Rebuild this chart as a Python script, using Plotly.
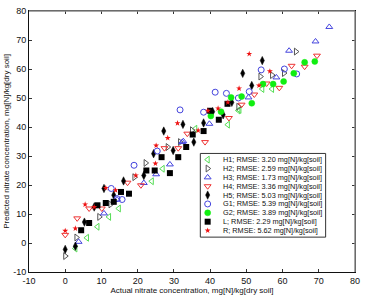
import plotly.graph_objects as go

FONT = "Liberation Sans, Arial, sans-serif"

# ---- data (actual, predicted) ----
h1_x = [2.8, 6.0, 8.9, 12.1, 14.8, 23.9, 26.9, 35.9, 44.9, 47.8, 48.1, 54.4, 57.1]
h1_y = [-1.9, 1.8, 5.6, 9.0, 11.9, 21.3, 25.6, 39.4, 40.8, 45.7, 45.9, 53.1, 53.1]

h2_x = [0.0, 3.1, 9.4, 12.5, 19.1, 22.2, 28.3, 31.7, 35.0, 47.8, 53.9, 57.1, 60.4, 63.7]
h2_y = [-4.5, 1.9, 9.0, 13.3, 22.7, 27.6, 33.1, 34.8, 38.9, 47.0, 57.4, 57.9, 58.6, 66.0]

h3_x = [3.7, 10.7, 14.3, 21.7, 25.1, 28.9, 32.3, 32.6, 39.8, 50.6, 58.3, 61.8, 69.1, 72.9]
h3_y = [0.4, 10.2, 15.0, 20.7, 23.7, 27.1, 34.8, 35.1, 41.1, 50.2, 57.1, 66.3, 69.5, 74.5]

h4_x = [0.0, 3.3, 6.6, 10.1, 17.2, 20.9, 27.4, 31.2, 33.7, 38.6, 45.2, 48.7, 52.2, 55.6, 59.1, 62.5, 66.1, 69.5]
h4_y = [2.8, 8.5, 11.9, 11.9, 20.8, 19.9, 32.7, 32.7, 37.7, 34.8, 43.1, 47.7, 51.2, 55.0, 53.5, 61.1, 60.8, 64.6]

h5_x = [0.0, 2.8, 5.3, 8.0, 10.7, 13.4, 16.1, 21.7, 24.4, 27.2, 29.8, 32.5, 35.5, 38.2, 40.7, 43.6, 46.0, 49.0, 51.5, 54.4]
h5_y = [-2.2, -1.1, 7.2, 12.4, 18.8, 16.5, 21.4, 23.3, 30.8, 38.6, 31.9, 40.9, 34.8, 41.4, 45.3, 44.2, 48.5, 58.5, 54.3, 62.9]

g1_x = [12.7, 14.3, 15.7, 19.0, 25.4, 31.7, 38.2, 41.4, 44.5, 47.8, 50.8, 54.1, 60.5, 63.9]
g1_y = [18.8, 15.3, 15.0, 26.8, 31.7, 45.9, 45.1, 52.0, 51.6, 50.0, 52.2, 59.7, 60.0, 58.3]

g2_x = [40.2, 43.0, 45.8, 48.7, 51.5, 54.6, 57.4, 60.3, 63.1, 66.1, 68.9]
g2_y = [43.8, 45.3, 50.2, 50.5, 48.2, 54.8, 54.8, 55.7, 58.5, 62.3, 62.6]

l_x = [4.4, 6.6, 8.9, 11.2, 13.4, 15.4, 17.6, 22.4, 24.7, 26.6, 28.9, 31.2, 33.4, 35.2, 38.2, 40.0, 42.4, 44.8]
l_y = [4.4, 6.9, 13.0, 13.8, 14.2, 17.6, 17.0, 25.0, 25.0, 29.6, 24.1, 29.6, 33.1, 37.4, 38.6, 45.6, 42.5, 48.0]

r_x = [0.0, 2.8, 5.5, 8.0, 11.2, 13.9, 19.5, 24.9, 25.1, 28.3, 31.0, 36.7, 39.4, 42.2, 44.9, 48.0, 50.8, 53.5, 56.5]
r_y = [4.2, 5.0, 13.3, 12.4, 19.0, 18.2, 23.3, 27.4, 33.6, 36.2, 41.3, 38.8, 45.6, 46.4, 48.5, 53.3, 65.2, 54.3, 59.2]

labels = [
    "H1; RMSE: 3.20 mg[N]/kg[soil]",
    "H2; RMSE: 2.59 mg[N]/kg[soil]",
    "H3; RMSE: 1.73 mg[N]/kg[soil]",
    "H4; RMSE: 3.36 mg[N]/kg[soil]",
    "H5; RMSE: 5.03 mg[N]/kg[soil]",
    "G1; RMSE: 5.39 mg[N]/kg[soil]",
    "G2; RMSE: 3.89 mg[N]/kg[soil]",
    "L; RMSE: 2.29 mg[N]/kg[soil]",
    "R; RMSE: 5.62 mg[N]/kg[soil]",
]
tick_vals = [-10, 0, 10, 20, 30, 40, 50, 60, 70, 80]

# (x, y, symbol, colour, size, outline width)
series = [
    (h1_x, h1_y, "triangle-left-open", "#55dd55", 6, 1),
    (h2_x, h2_y, "triangle-right-open", "#555555", 6, 1),
    (h3_x, h3_y, "triangle-up-open", "#4444dd", 6, 1),
    (h4_x, h4_y, "triangle-down-open", "#ee3333", 6, 1),
    (h5_x, h5_y, "diamond-tall", "#000000", 6, 0.5),
    (g1_x, g1_y, "circle-open", "#4444dd", 6, 1),
    (g2_x, g2_y, "circle", "#11ee11", 6, 0.5),
    (l_x, l_y, "square", "#000000", 6, 0),
    (r_x, r_y, "star", "#ee1111", 4.5, 0),
]

fig = go.Figure()
for (xs, ys, sym, col, sz, lw), lab in zip(series, labels):
    fig.add_trace(go.Scatter(
        x=xs, y=ys, mode="markers", name=lab, showlegend=False,
        marker=dict(symbol=sym, color=col, size=sz, line=dict(color=col, width=lw)),
    ))

# ---- custom compact legend drawn on a pixel-space overlay axis ----
LX0, LY0, LX1, LY1 = 202, 153, 330, 237
row0, dy = 159.2, 8.9
for i, ((xs, ys, sym, col, sz, lw), lab) in enumerate(zip(series, labels)):
    yy = row0 + i * dy
    fig.add_trace(go.Scatter(
        x=[209.5], y=[yy], xaxis="x2", yaxis="y2", mode="markers", showlegend=False,
        hoverinfo="skip",
        marker=dict(symbol=sym, color=col, size=sz, line=dict(color=col, width=lw)),
    ))
    fig.add_annotation(x=223, y=yy, xref="x2", yref="y2", text=lab, showarrow=False,
                       xanchor="left", yanchor="middle",
                       font=dict(family=FONT, size=7.3, color="#111111"))
fig.add_shape(type="rect", xref="x2", yref="y2", x0=LX0, x1=LX1, y0=LY0, y1=LY1,
              line=dict(color="#333333", width=1), fillcolor="rgba(0,0,0,0)")

# grey top / right frame
fig.add_shape(type="line", xref="paper", yref="paper", x0=0, x1=1, y0=1, y1=1,
              line=dict(color="#8a8a8a", width=1.5), layer="above")
fig.add_shape(type="line", xref="paper", yref="paper", x0=1, x1=1, y0=0, y1=1,
              line=dict(color="#8a8a8a", width=1.5), layer="above")

axis_common = dict(
    showgrid=False, zeroline=False, showline=True, linecolor="#111111", linewidth=1,
    mirror="ticks", ticks="inside", ticklen=3, tickcolor="#333333",
    tickfont=dict(family=FONT, size=9, color="#111111"),
    tickvals=tick_vals, ticktext=[str(v) for v in tick_vals],
)
fig.update_layout(
    width=366, height=299,
    margin=dict(l=27, r=6, t=10, b=27),
    paper_bgcolor="white", plot_bgcolor="white",
    xaxis=dict(range=[-10, 80], **axis_common,
               title=dict(text="Actual nitrate concentration, mg[N]/kg[dry soil]",
                          font=dict(family=FONT, size=8, color="#111111"), standoff=2)),
    yaxis=dict(range=[-10, 80], **axis_common,
               title=dict(text="Predicted nitrate concentration, mg[N]/kg[dry soil]",
                          font=dict(family=FONT, size=8, color="#111111"), standoff=2)),
    xaxis2=dict(overlaying="x", range=[27, 360], visible=False, fixedrange=True),
    yaxis2=dict(overlaying="y", range=[272, 10], visible=False, fixedrange=True),
    showlegend=False,
)
fig.write_html("out.html")
